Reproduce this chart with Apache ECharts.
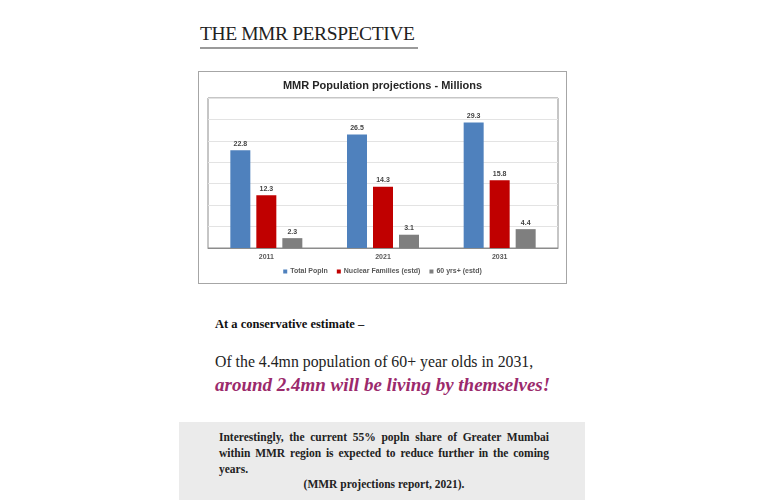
<!DOCTYPE html>
<html>
<head>
<meta charset="utf-8">
<script src="https://cdn.jsdelivr.net/npm/echarts@6/dist/echarts.min.js"></script>
<style>
  html, body { margin:0; padding:0; background:#fff; width:765px; height:500px; overflow:hidden; }
  .abs { position:absolute; white-space:nowrap; }
  .serif { font-family: "Liberation Serif", "DejaVu Serif", serif; }
  .jl { text-align:justify; text-align-last:justify; }
  #chart { position:absolute; left:199px; top:72px; width:367px; height:211px; outline:1px solid #a6a6a6; }
</style>
</head>
<body>
<div class="abs serif" style="left:200px; top:23px; font-size:19.5px; color:#222; letter-spacing:-0.4px;">THE MMR PERSPECTIVE</div>
<div class="abs" style="left:200px; top:47px; width:218px; height:2px; background:#9a9a9a;"></div>

<div id="chart"></div>

<div class="abs serif" style="left:215px; top:317px; font-size:12.5px; font-weight:bold; color:#111;">At a conservative estimate –</div>
<div class="abs serif" style="left:215px; top:353px; font-size:15.8px; color:#222;">Of the 4.4mn population of 60+ year olds in 2031,</div>
<div class="abs serif" style="left:215px; top:374px; font-size:19px; color:#9b2a6c; font-weight:bold; font-style:italic;">around 2.4mn will be living by themselves!</div>

<div class="abs" style="left:179px; top:422px; width:406px; height:78px; background:#ebebeb;"></div>
<div class="abs serif jl" style="left:219px; top:431px; width:330px; font-size:11.5px; font-weight:bold; color:#222;">Interestingly, the current 55% popln share of Greater Mumbai</div>
<div class="abs serif jl" style="left:219px; top:447px; width:330px; font-size:11.5px; font-weight:bold; color:#222;">within MMR region is expected to reduce further in the coming</div>
<div class="abs serif" style="left:219px; top:463px; font-size:11.5px; font-weight:bold; color:#222;">years.</div>
<div class="abs serif" style="left:219px; top:478px; width:330px; text-align:center; font-size:11.5px; font-weight:bold; color:#222;">(MMR projections report, 2021).</div>

<script>
const categories = ['2011', '2021', '2031'];
const seriesNames = ['Total Popln', 'Nuclear Families (estd)', '60 yrs+ (estd)'];
const totalPopln = [22.8, 26.5, 29.3];
const nuclearFamilies = [12.3, 14.3, 15.8];
const seniors = [2.3, 3.1, 4.4];
const colors = ['#4f81bd', '#c00000', '#7f7f7f'];

const chart = echarts.init(document.getElementById('chart'), null, { renderer: 'canvas' });
const labelStyle = { show: true, position: 'top', distance: 3, fontSize: 7, fontWeight: 'bold', color: '#444', fontFamily: 'Liberation Sans, Arial, sans-serif' };
const mk = (name, data, color) => ({
  name, type: 'bar', data, barWidth: 20, barGap: '30%',
  itemStyle: { color }, label: labelStyle
});
chart.setOption({
  animation: false,
  textStyle: { fontFamily: 'Liberation Sans, Arial, sans-serif' },
  title: {
    text: 'MMR Population projections - Millions',
    left: 'center', top: 3,
    textStyle: { fontSize: 11, fontWeight: 'bold', color: '#262626' }
  },
  grid: { left: 9, right: 8, top: 26, bottom: 35, show: true, borderColor: '#8c8c8c', borderWidth: 1, backgroundColor: '#fff' },
  legend: {
    bottom: 3, left: 'center', itemWidth: 4, itemHeight: 4, itemGap: 9,
    icon: 'rect',
    textStyle: { fontSize: 7, color: '#595959', fontWeight: 'bold', padding: [0,0,0,-2] },
    data: seriesNames
  },
  xAxis: {
    type: 'category', data: categories,
    axisLine: { lineStyle: { color: '#8c8c8c' } },
    axisTick: { show: false },
    axisLabel: { fontSize: 7, fontWeight: 'bold', color: '#595959', margin: 6 }
  },
  yAxis: {
    type: 'value', min: 0, max: 35, interval: 5,
    axisLabel: { show: false }, axisLine: { show: false }, axisTick: { show: false },
    splitLine: { lineStyle: { color: '#e3e3e3' } }
  },
  series: [
    mk(seriesNames[0], totalPopln, colors[0]),
    mk(seriesNames[1], nuclearFamilies, colors[1]),
    mk(seriesNames[2], seniors, colors[2])
  ]
});
</script>
</body>
</html>
